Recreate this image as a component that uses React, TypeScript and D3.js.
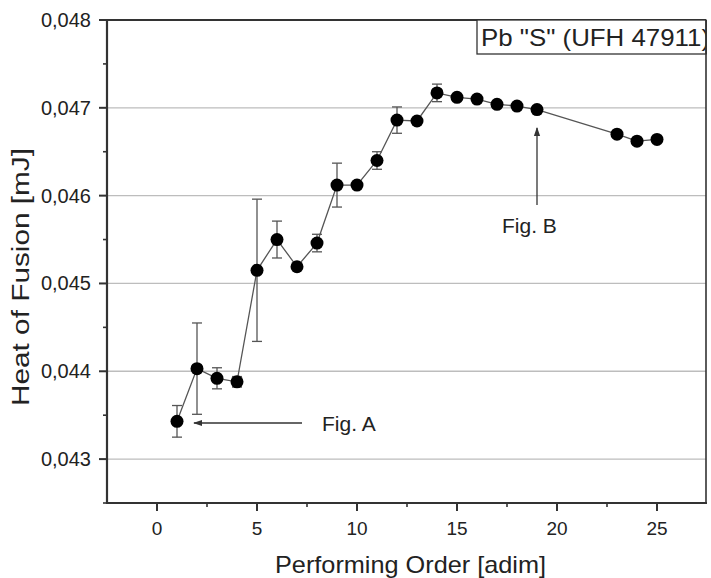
import React from "react";
import * as d3 from "d3";

const order = [1, 2, 3, 4, 5, 6, 7, 8, 9, 10, 11, 12, 13, 14, 15, 16, 17, 18, 19, 23, 24, 25];
const heat = [0.04343, 0.04403, 0.04392, 0.04388, 0.04515, 0.0455, 0.04519, 0.04546, 0.04612, 0.04612, 0.0464, 0.04686, 0.04685, 0.04717, 0.04712, 0.0471, 0.04704, 0.04702, 0.04698, 0.0467, 0.04662, 0.04664];
const err = [0.00018, 0.00052, 0.00012, 0.00006, 0.00081, 0.00021, 0, 0.0001, 0.00025, 0, 0.0001, 0.00015, 0, 0.0001, 0, 0, 0, 0, 0, 0, 0, 0];
const xTicks = [0, 5, 10, 15, 20, 25];
const xMinor = [2.5, 7.5, 12.5, 17.5, 22.5];
const yTicks = [0.043, 0.044, 0.045, 0.046, 0.047, 0.048];
const yMinor = [0.0425, 0.0435, 0.0445, 0.0455, 0.0465, 0.0475];
const legendLabel = 'Pb "S" (UFH 47911)';
const xTitle = "Performing Order [adim]";
const yTitle = "Heat of Fusion [mJ]";

const L = 107, R = 706, T = 20, B = 503;
const font = "'Liberation Sans', Arial, Helvetica, sans-serif";

export default function App() {
  const x = d3.scaleLinear().domain([-2.5, 27.5]).range([L, R + 1]);
  const y = d3.scaleLinear().domain([0.0425, 0.048]).range([B, T]);
  const fmt = (v: number) => v.toFixed(3).replace(".", ",");
  const pts = order.map((o, i) => ({ o, v: heat[i], e: err[i] }));
  const line = d3.line<{ o: number; v: number }>().x(d => x(d.o)).y(d => y(d.v));
  const txt = "#222";
  return (
    <svg width={711} height={578} style={{ position: "absolute", left: 0, top: 0, background: "#fff" }} fontFamily={font}>
      <defs>
        <marker id="ah" viewBox="0 0 10 10" refX="9" refY="5" markerWidth="7" markerHeight="7" orient="auto-start-reverse">
          <path d="M0,1.5 L10,5 L0,8.5 Z" fill="#333" />
        </marker>
      </defs>
      <rect x={0} y={0} width={711} height={578} fill="#fff" />
      {/* grid */}
      {yTicks.filter(t => t < 0.048).map(t => (
        <line key={t} x1={L} x2={R} y1={y(t)} y2={y(t)} stroke="#bdbdbd" strokeWidth={1.3} />
      ))}
      {/* frame */}
      <line x1={L} x2={R} y1={T} y2={T} stroke="#333" strokeWidth={2.2} />
      <line x1={R} x2={R} y1={T} y2={B} stroke="#333" strokeWidth={1.6} />
      <line x1={L} x2={L} y1={T} y2={B + 1} stroke="#333" strokeWidth={2.2} />
      <line x1={L - 1} x2={R + 1} y1={B} y2={B} stroke="#333" strokeWidth={2.2} />
      {/* y ticks */}
      {yTicks.map(t => (
        <g key={t}>
          <line x1={L - 8} x2={L} y1={y(t)} y2={y(t)} stroke="#333" strokeWidth={2} />
          <text x={91} y={y(t) + 7} textAnchor="end" fontSize={20} fill={txt}>{fmt(t)}</text>
        </g>
      ))}
      {yMinor.map(t => (
        <line key={t} x1={L - 4} x2={L} y1={y(t)} y2={y(t)} stroke="#333" strokeWidth={1.6} />
      ))}
      {/* x ticks */}
      {xTicks.map(t => (
        <g key={t}>
          <line x1={x(t)} x2={x(t)} y1={B} y2={B + 8} stroke="#333" strokeWidth={2} />
          <text x={x(t)} y={535} textAnchor="middle" fontSize={19} fill={txt}>{t}</text>
        </g>
      ))}
      {xMinor.map(t => (
        <line key={t} x1={x(t)} x2={x(t)} y1={B} y2={B + 4} stroke="#333" strokeWidth={1.6} />
      ))}
      {/* titles */}
      <text x={275} y={573} fontSize={24} fill={txt} textLength={271} lengthAdjust="spacingAndGlyphs">{xTitle}</text>
      <text transform={`translate(28.5,277) rotate(-90)`} textAnchor="middle" fontSize={23.5} fill={txt} textLength={258} lengthAdjust="spacingAndGlyphs">{yTitle}</text>
      {/* legend */}
      <rect x={477} y={T} width={R - 477} height={34} fill="#fff" stroke="#333" strokeWidth={1.3} />
      <svg x={477} y={T} width={R - 477} height={34} overflow="hidden">
        <text x={4} y={26} fontSize={24.5} fill={txt} textLength={229} lengthAdjust="spacingAndGlyphs">{legendLabel}</text>
      </svg>
      <line x1={R} x2={R} y1={T} y2={T + 34} stroke="#333" strokeWidth={1.6} />
      {/* line */}
      <path d={line(pts) || ""} fill="none" stroke="#555" strokeWidth={1.3} />
      {/* error bars */}
      {pts.filter(p => p.e > 0).map(p => (
        <g key={p.o} stroke="#555" strokeWidth={1.3}>
          <line x1={x(p.o)} x2={x(p.o)} y1={y(p.v + p.e)} y2={y(p.v - p.e)} />
          <line x1={x(p.o) - 5} x2={x(p.o) + 5} y1={y(p.v + p.e)} y2={y(p.v + p.e)} />
          <line x1={x(p.o) - 5} x2={x(p.o) + 5} y1={y(p.v - p.e)} y2={y(p.v - p.e)} />
        </g>
      ))}
      {/* points */}
      {pts.map(p => (
        <circle key={p.o} cx={x(p.o)} cy={y(p.v)} r={6.5} fill="#000" />
      ))}
      {/* annotations */}
      <line x1={302} x2={194} y1={423} y2={423} stroke="#333" strokeWidth={1.3} markerEnd="url(#ah)" />
      <text x={322} y={431} fontSize={21} fill={txt}>Fig. A</text>
      <line x1={537} x2={537} y1={205} y2={128} stroke="#333" strokeWidth={1.3} markerEnd="url(#ah)" />
      <text x={502} y={233} fontSize={21} fill={txt}>Fig. B</text>
    </svg>
  );
}
